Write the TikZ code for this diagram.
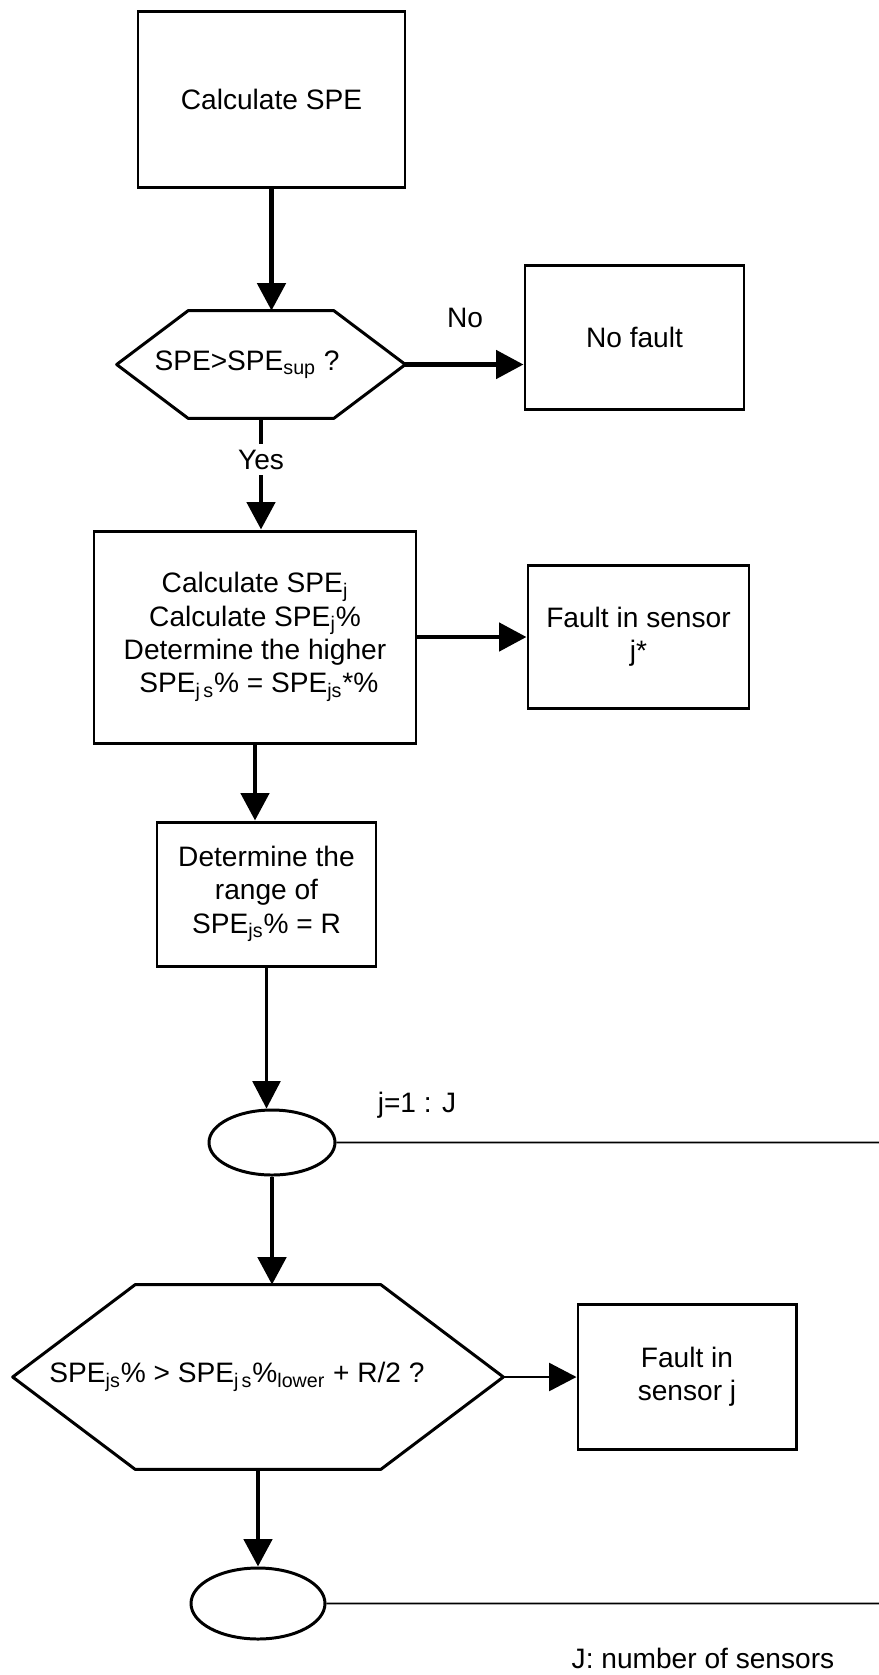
\documentclass[tikz,border=0pt]{standalone}
\usepackage{fontspec}
\setmainfont{Liberation Sans}
\usetikzlibrary{positioning}
\usetikzlibrary{shapes.geometric}
\usetikzlibrary{arrows.meta}

\begin{document}
\begin{tikzpicture}
    [
    on grid,
    every node/.style={font=\fontsize{16}{19}\selectfont, align=center, inner sep=0pt},
    box/.style={draw, rectangle, line width=1.7pt},
    decision/.style={rectangle},
    border/.style={line width=1.7pt, line join=round},
    loopnode/.style={draw, ellipse, line width=1.7pt},
    flow/.style={line width=2.8pt, -{Triangle[length=0.55cm, width=0.56cm]}},
    thinflow/.style={line width=1.5pt, -{Triangle[length=0.55cm, width=0.56cm]}},
    loopline/.style={line width=1pt},
    ]

    \useasboundingbox (0,0) rectangle (17.58,-33.5);

    \node[box, minimum width=5.34cm, minimum height=3.52cm] (box_spe) at (5.43,-1.98) {Calculate SPE};

    \node[decision, minimum width=5.76cm, minimum height=2.14cm,
          below = 5.31cm of box_spe, xshift=-0.21cm] (dec_spe) {SPE>SPE\textsubscript{sup} ?\hspace*{0.56cm}};

    \node[box, minimum width=4.38cm, minimum height=2.88cm,
          right = 7.47cm of dec_spe, yshift=0.55cm] (box_nofault) {No fault};

    \node[box, minimum width=6.44cm, minimum height=4.24cm,
          below = 5.45cm of dec_spe, xshift=-0.12cm] (box_calc)
          {Calculate SPE\textsubscript{j}\\ Calculate SPE\textsubscript{j}\%\\ Determine the higher\\
           \ SPE\textsubscript{j\,s}\% = SPE\textsubscript{js}*\%};

    \node[box, minimum width=4.42cm, minimum height=2.86cm,
          right = 7.67cm of box_calc] (box_fault) {Fault in sensor\\ j*};

    \node[box, minimum width=4.38cm, minimum height=2.88cm,
          below = 5.14cm of box_calc, xshift=0.23cm] (box_range)
          {Determine the\\ range of\\ SPE\textsubscript{js}\% = R};

    \node[loopnode, minimum width=2.52cm, minimum height=1.3cm,
          below = 4.97cm of box_range, xshift=0.11cm] (loop_start) {};

    \node[decision, minimum width=9.8cm, minimum height=3.68cm,
          below = 4.69cm of loop_start, xshift=-0.28cm] (dec_js)
          {SPE\textsubscript{js}\% > SPE\textsubscript{j\,s}\%\textsubscript{lower} + R/2 ?\hspace*{0.84cm}};

    \node[box, minimum width=4.36cm, minimum height=2.9cm,
          right = 8.58cm of dec_js] (box_faultj) {Fault in\\ sensor j};

    \node[loopnode, minimum width=2.68cm, minimum height=1.42cm,
          below = 4.53cm of dec_js] (loop_end) {};

    % hexagon outlines of the two tests
    \foreach \n/\s in {dec_spe/1.43cm, dec_js/2.45cm}
        \draw[border] (\n.west) -- ([xshift=\s]\n.north west) -- ([xshift=-\s]\n.north east)
            -- (\n.east) -- ([xshift=-\s]\n.south east) -- ([xshift=\s]\n.south west) -- cycle;

    % labels
    \node (lbl_no) at (9.3,-6.36) {No};
    \node (lbl_loop) at (8.34,-22.1) {j=1 : J};
    \node (lbl_count) at (14.06,-33.16) {J: number of sensors};

    \coordinate (end_start) at (17.58,-22.85);
    \coordinate (end_end) at (17.58,-32.07);

    % connectors
    \draw[flow] (box_spe.south) -- (box_spe.south |- dec_spe.north);
    \draw[flow] (dec_spe.east) -- (dec_spe.east -| box_nofault.west);
    \draw[flow] (dec_spe.south) -- node[pos=0.37, fill=white, inner sep=3pt] (lbl_yes) {Yes} (dec_spe.south |- box_calc.north);
    \draw[flow] (box_calc.east) -- (box_calc.east -| box_fault.west);
    \draw[flow] (box_calc.south) -- (box_calc.south |- box_range.north);
    \draw[thinflow] (box_range.south) -- (box_range.south |- loop_start.north);
    \draw[loopline] (loop_start.east) -- (end_start);
    \draw[flow] (loop_start.south) -- (loop_start.south |- dec_js.north);
    \draw[thinflow] (dec_js.east) -- (dec_js.east -| box_faultj.west);
    \draw[flow] (dec_js.south) -- (loop_end.north);
    \draw[loopline] (loop_end.east) -- (end_end);
\end{tikzpicture}
\end{document}
